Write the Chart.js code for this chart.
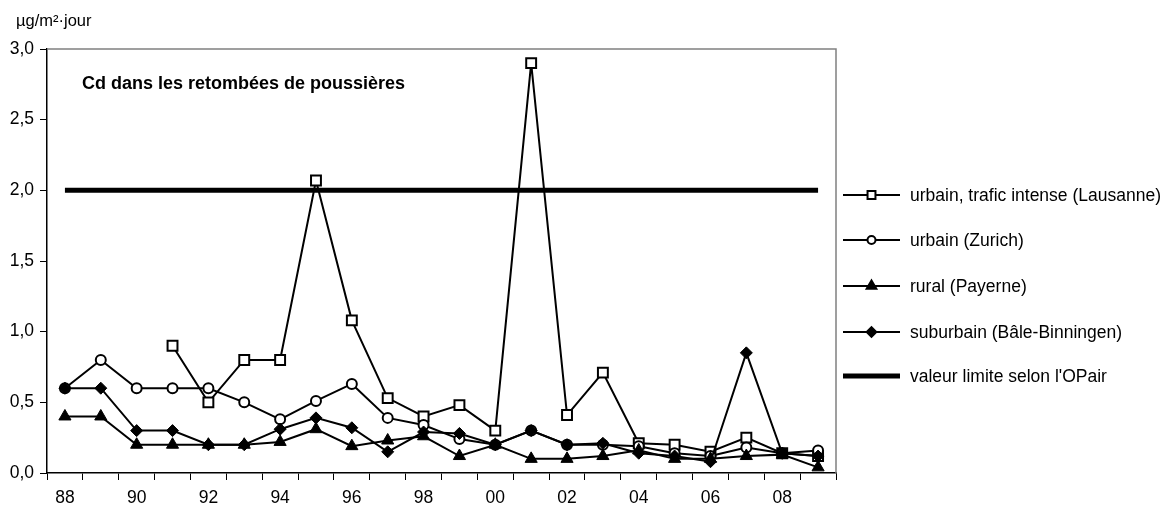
<!DOCTYPE html>
<html>
<head>
<meta charset="utf-8">
<script src="https://cdn.jsdelivr.net/npm/chart.js@4/dist/chart.umd.min.js"></script>
<style>
  html, body { margin: 0; padding: 0; background: #fff; }
  #wrap { width: 1174px; height: 517px; position: relative; }
</style>
</head>
<body>
<div id="wrap"><canvas id="c" width="1174" height="517"></canvas></div>
<script>
const years = ['88','89','90','91','92','93','94','95','96','97','98','99','00','01','02','03','04','05','06','07','08','09'];
const lausanne = [null,null,null,0.90,0.50,0.80,0.80,2.07,1.08,0.53,0.40,0.48,0.30,2.90,0.41,0.71,0.21,0.20,0.15,0.25,0.14,0.12];
const zurich   = [0.60,0.80,0.60,0.60,0.60,0.50,0.38,0.51,0.63,0.39,0.34,0.24,0.20,0.30,0.20,0.20,0.19,0.14,0.12,0.18,0.14,0.16];
const payerne  = [0.40,0.40,0.20,0.20,0.20,0.20,0.22,0.31,0.19,0.23,0.26,0.12,0.20,0.10,0.10,0.12,0.16,0.10,0.10,0.12,0.13,0.04];
const bale     = [0.60,0.60,0.30,0.30,0.20,0.20,0.31,0.39,0.32,0.15,0.29,0.28,0.20,0.30,0.20,0.21,0.14,0.12,0.08,0.85,0.14,0.12];
const limite   = [2.0,2.0,2.0,2.0,2.0,2.0,2.0,2.0,2.0,2.0,2.0,2.0,2.0,2.0,2.0,2.0,2.0,2.0,2.0,2.0,2.0,2.0];
const seriesNames = ['urbain, trafic intense (Lausanne)','urbain (Zurich)','rural (Payerne)','suburbain (Bâle-Binningen)',"valeur limite selon l'OPair"];
const yTicks = ['0,0','0,5','1,0','1,5','2,0','2,5','3,0'];
const unitLabel = 'µg/m²·jour';
const chartTitle = 'Cd dans les retombées de poussières';

const FONT = "'Liberation Sans', Arial, sans-serif";

function drawMarker(ctx, style, x, y, r, fill) {
  ctx.save();
  ctx.beginPath();
  if (style === 'rect') {
    const s = r * Math.SQRT1_2;
    ctx.rect(x - s, y - s, 2 * s, 2 * s);
  } else if (style === 'circle') {
    ctx.arc(x, y, r, 0, Math.PI * 2);
  } else if (style === 'triangle') {
    ctx.moveTo(x, y - r);
    ctx.lineTo(x + r * Math.sqrt(3) / 2, y + r / 2);
    ctx.lineTo(x - r * Math.sqrt(3) / 2, y + r / 2);
    ctx.closePath();
  } else if (style === 'rectRot') {
    ctx.moveTo(x, y - r); ctx.lineTo(x + r, y); ctx.lineTo(x, y + r); ctx.lineTo(x - r, y); ctx.closePath();
  }
  ctx.fillStyle = fill;
  ctx.fill();
  ctx.lineWidth = 2;
  ctx.strokeStyle = '#000';
  ctx.stroke();
  ctx.restore();
}

const frame = {
  id: 'frame',
  beforeDatasetsDraw(chart) {
    const a = chart.chartArea, ctx = chart.ctx;
    ctx.save();
    ctx.strokeStyle = '#808080';
    ctx.lineWidth = 1.5;
    ctx.beginPath();
    ctx.moveTo(a.left, a.top);
    ctx.lineTo(a.right, a.top);
    ctx.lineTo(a.right, a.bottom);
    ctx.stroke();
    ctx.restore();
  },
  afterDraw(chart) {
    const ctx = chart.ctx, a = chart.chartArea;
    ctx.save();
    ctx.fillStyle = '#000';
    ctx.textBaseline = 'middle';
    ctx.textAlign = 'left';
    ctx.font = "16.5px " + FONT;
    ctx.fillText(unitLabel, 16, 21);
    ctx.font = "bold 18px " + FONT;
    ctx.fillText(chartTitle, 82, 84);
    // legend
    const x0 = 843, x1 = 900, tx = 910;
    const ys = [195, 240, 286, 332, 376];
    ctx.font = "17.5px " + FONT;
    chart.data.datasets.forEach((ds, i) => {
      const y = ys[i];
      ctx.strokeStyle = '#000';
      ctx.lineWidth = ds.borderWidth;
      ctx.beginPath(); ctx.moveTo(x0, y); ctx.lineTo(x1, y); ctx.stroke();
      if (ds.pointRadius > 0) {
        drawMarker(ctx, ds.pointStyle, (x0 + x1) / 2, y, ds.pointRadius * 0.8, ds.pointBackgroundColor);
      }
      ctx.fillStyle = '#000';
      ctx.fillText(seriesNames[i], tx, y + 1);
    });
    ctx.restore();
  }
};

const tickFont = { family: FONT, size: 17.5 };

new Chart(document.getElementById('c'), {
  type: 'line',
  data: {
    labels: years,
    datasets: [
      { label: seriesNames[0], data: lausanne, order: 5, borderColor: '#000', borderWidth: 2, pointStyle: 'rect', pointRadius: 7, pointBackgroundColor: '#fff', pointBorderColor: '#000', pointBorderWidth: 2, spanGaps: false, tension: 0 },
      { label: seriesNames[1], data: zurich, order: 4, borderColor: '#000', borderWidth: 2, pointStyle: 'circle', pointRadius: 5, pointBackgroundColor: '#fff', pointBorderColor: '#000', pointBorderWidth: 2, tension: 0 },
      { label: seriesNames[2], data: payerne, order: 3, borderColor: '#000', borderWidth: 2, pointStyle: 'triangle', pointRadius: 7, pointBackgroundColor: '#000', pointBorderColor: '#000', pointBorderWidth: 1, tension: 0 },
      { label: seriesNames[3], data: bale, order: 2, borderColor: '#000', borderWidth: 2, pointStyle: 'rectRot', pointRadius: 6, pointBackgroundColor: '#000', pointBorderColor: '#000', pointBorderWidth: 1, tension: 0 },
      { label: seriesNames[4], data: limite, order: 1, borderColor: '#000', borderWidth: 5, pointRadius: 0, pointBackgroundColor: '#000', tension: 0 }
    ]
  },
  options: {
    responsive: false,
    animation: false,
    devicePixelRatio: 1,
    layout: { padding: { left: 0, top: 49, right: 338, bottom: 0 } },
    plugins: { legend: { display: false }, tooltip: { enabled: false }, title: { display: false } },
    scales: {
      x: {
        type: 'category',
        offset: true,
        grid: { display: true, offset: true, drawOnChartArea: false, drawTicks: true, tickLength: 7, color: '#000', lineWidth: 1 },
        border: { display: true, color: '#000', width: 1.5 },
        ticks: {
          autoSkip: false, maxRotation: 0, minRotation: 0, color: '#000', font: tickFont, padding: 8,
          callback: function(v, i) { return i % 2 === 0 ? years[i] : ''; }
        },
        afterFit: function(s) { s.height = 44; }
      },
      y: {
        min: 0, max: 3,
        grid: { display: true, drawOnChartArea: false, drawTicks: true, tickLength: 7, color: '#000', lineWidth: 1 },
        border: { display: true, color: '#000', width: 1.5 },
        ticks: {
          stepSize: 0.5, color: '#000', font: tickFont, padding: 6,
          callback: function(v) { return yTicks[Math.round(v * 2)]; }
        },
        afterFit: function(s) { s.width = 47; }
      }
    }
  },
  plugins: [frame]
});
</script>
</body>
</html>
